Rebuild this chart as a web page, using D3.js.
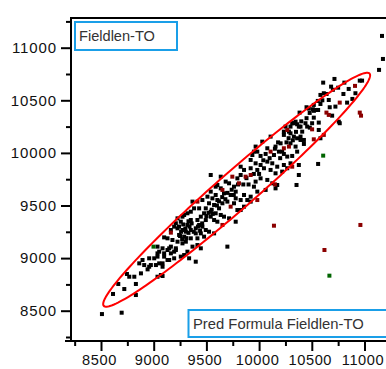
<!DOCTYPE html>
<html><head><meta charset="utf-8">
<script src="https://cdn.jsdelivr.net/npm/d3@7"></script>
<style>body{margin:0;background:#fff}svg{display:block}</style>
</head><body>
<svg id="c" width="386" height="369"></svg>
<script>
const xTicks = [8500, 9000, 9500, 10000, 10500, 11000];
const yTicks = [8500, 9000, 9500, 10000, 10500, 11000];
const minorTicks = [8250, 8750, 9250, 9750, 10250, 10750, 11250];
const yTitle = "Fieldlen-TO";
const xTitle = "Pred Formula Fieldlen-TO";

const blackPts = [
[8509,8468],[8696,8481],[8614,8659],[8664,8754],[8721,8706],[8746,8849],[8831,8754],[8831,8649],
[8816,8823],[8768,8823],[8879,8855],[8863,8950],[8910,8934],[8942,8893],[8894,8982],[8957,8918],
[8957,8998],[9036,8823],[9084,8830],[9021,8934],[9084,8950],[8973,8934],[9036,9014],[9005,8998],
[9052,9061],[9099,9045],[9131,8982],[9163,9045],[9194,9061],[9257,9014],[9147,9093],[9194,8998],
[9210,9093],[9036,9045],[9099,9014],[9147,8982],[9289,9029],[9320,9061],[9368,9109],[9415,9124],
[9447,9093],[9336,8998],[9399,8966],[9052,8950],[9084,8918],[9068,8839],[9036,9109],[9084,9093],
[9131,9077],[9163,9109],[9210,9077],[9099,9197],[9131,9188],[9178,9172],[9226,9156],[9273,9140],
[9305,9156],[9241,9220],[9289,9204],[9352,9188],[9415,9188],[9478,9204],[9210,9331],[9226,9283],
[9273,9267],[9305,9251],[9352,9267],[9399,9283],[9431,9315],[9462,9299],[9494,9267],[9525,9251],
[9573,9235],[9447,9235],[9399,9235],[9257,9346],[9289,9410],[9352,9362],[9320,9315],[9383,9473],
[9478,9426],[9447,9394],[9415,9362],[9494,9362],[9541,9394],[9573,9362],[9604,9346],[9494,9473],
[9541,9441],[9588,9426],[9636,9410],[9667,9394],[9715,9378],[9525,9521],[9573,9505],[9620,9473],
[9652,9521],[9699,9537],[9762,9521],[9825,9457],[9604,9552],[9557,9568],[9588,9600],[9541,9632],
[9604,9695],[9636,9663],[9667,9616],[9730,9600],[9778,9568],[9825,9552],[9857,9489],[9920,9537],
[9715,9711],[9762,9679],[9778,9632],[9794,9758],[9857,9600],[9888,9552],[9920,9584],[9951,9679],
[9983,9632],[10062,9648],[10156,9663],[9967,9727],[10014,9758],[10078,9743],[10125,9711],[10172,9695],
[9825,9790],[9825,9869],[9857,9838],[9920,9854],[9983,9838],[10046,9854],[10109,9838],[10156,9806],
[10219,9822],[10267,9854],[9920,9933],[9967,9901],[10014,9885],[10078,9917],[10125,9901],[10172,9869],
[10235,9885],[10298,9901],[10377,9885],[9936,9980],[9983,10012],[10014,9971],[10062,9990],[10141,9980],
[10188,10012],[10235,9990],[10267,9965],[10314,9971],[10361,10012],[9541,9790],[9699,9109],[9778,9346],
[9794,9457],[10355,9695],[10377,9790],[10560,9895],[10030,10107],[10078,10044],[10109,10155],[10156,10060],
[10204,10091],[10235,10171],[10251,10250],[10283,10202],[10314,10282],[10346,10297],[10377,10250],[10409,10202],
[10393,10155],[10425,10123],[10298,10091],[10346,10060],[10219,10012],[9967,10060],[9951,10012],
[11166,11112],[11175,10893],[11138,10789],[10977,10687],[10955,10687],[10715,10703],[10608,10668],[10809,10668],
[10850,10608],[10683,10630],[10914,10567],[10885,10513],[10582,10551],[10614,10567],[10661,10503],[10835,10478],
[10724,10440],[10670,10434],[10557,10494],[10582,10465],[10519,10456],[10450,10434],[10472,10421],[10384,10383],
[10510,10415],[10541,10408],[10560,10408],[10693,10354],[10756,10297],[10765,10282],[10519,10335],[10566,10288],
[10503,10282],[10440,10282],[10456,10250],[10481,10240],[10393,10250],[10330,10282],[10361,10272],[10298,10250],
[10566,10218],[10235,10202],[10298,10186],[10330,10155],[10361,10139],[10393,10123],[10425,10085],[10582,10139],
[9636,9774],[9683,9727],[9588,9679],[9510,9584],[9462,9552],[9431,9473],[9352,9441],[9320,9426],
[9273,9394],[9226,9378],[9194,9299],[9163,9267],[9368,9537],
[9240,9300],[9260,9250],[9280,9320],[9300,9280],[9330,9240],[9340,9300],[9360,9330],[9380,9250],
[9250,9210],[9270,9180],[9310,9190],[9330,9350],[9420,9300],[9440,9260],[9460,9330],[9500,9400],
[9520,9430],[9550,9460],[9560,9420],[9600,9500],[9620,9540],[9650,9580],[9680,9560],[9700,9620],
[9740,9650],[9760,9600],[9800,9700],[9850,9700],[9880,9760],[9900,9700],[9950,9800],[10000,9800],
[10040,9930],[10100,9950],[10150,10040],[10180,10100],[10200,9950],[10260,10100],[10280,10140],[10320,10120],
[10350,10200],[10400,10300],[10450,10330],[10480,10380],[10520,10400],[10600,10500],[10640,10560],[10700,10600],
[10750,10620],[10800,10560]
];
const redPts = [
[10109,10012],[10314,9869],[9872,9774],[9920,9790],[9746,9774],[9809,9711],[9652,9648],[9983,9552],
[9730,9489],[9415,9537],[9652,9315],[9163,9242],[10141,9308],[10961,9315],[10620,9077],[10910,10637],
[10765,10478],[10639,10383],[10661,10361],[10955,10383],[10967,10354],[10267,10218],[10503,10224],[10519,10129],
[10614,10171],[10283,10060],[10235,10044],[10150,9701]
];
const greenPts = [[8998,9109],[10608,9974],[10667,8833]];

// density ellipse parameters (data units)
const ellCenter = [9787, 9650];
const ellSemiMajor = 1676;
const ellSemiMinor = 176;
const ellAngleDeg = 41.2;

const svg = d3.select("#c");
const x = d3.scaleLinear().domain([8500, 11000]).range([101, 364.5]);
const y = d3.scaleLinear().domain([8500, 11000]).range([310.7, 47.7]);
const L = 71, T = 18, R = 394, B = 341;

svg.append("defs").append("clipPath").attr("id","clip")
  .append("rect").attr("x",L+1).attr("y",T+1).attr("width",R-L).attr("height",B-T-2);

const g = svg.append("g").attr("clip-path","url(#clip)");

const th = ellAngleDeg*Math.PI/180;
const ell = d3.range(0, 181).map(i=>{
  const t = i/180*2*Math.PI;
  const a = ellSemiMajor*Math.cos(t), b = ellSemiMinor*Math.sin(t);
  return [ellCenter[0] + a*Math.cos(th) - b*Math.sin(th), ellCenter[1] + a*Math.sin(th) + b*Math.cos(th)];
});

const sq = 4;
function drawPts(pts, color){
  g.selectAll(null).data(pts).enter().append("rect")
    .attr("x", d=>x(d[0])-sq/2).attr("y", d=>y(d[1])-sq/2)
    .attr("width", sq).attr("height", sq).attr("fill", color);
}
drawPts(blackPts, "#000");
drawPts(redPts, "#8b0000");
drawPts(greenPts, "#006400");

g.append("path").datum(ell)
  .attr("d", d3.line().x(d=>x(d[0])).y(d=>y(d[1])).curve(d3.curveLinearClosed))
  .attr("fill","none").attr("stroke","#f00").attr("stroke-width",2);

svg.append("line").attr("x1",L).attr("x2",386).attr("y1",T).attr("y2",T).attr("stroke","#000").attr("stroke-width",2);
svg.append("line").attr("x1",L).attr("x2",L).attr("y1",T-1).attr("y2",B).attr("stroke","#000").attr("stroke-width",2);
svg.append("line").attr("x1",L-6).attr("x2",386).attr("y1",B).attr("y2",B).attr("stroke","#000").attr("stroke-width",2);

const font = "'Liberation Sans', Arial, Helvetica, sans-serif";

const xAxisMinor = d3.axisBottom(x).tickValues(minorTicks).tickSize(5).tickFormat("");
const xAxisMajor = d3.axisBottom(x).tickValues(xTicks).tickSize(10).tickPadding(4).tickFormat(d3.format("d"));
[xAxisMinor, xAxisMajor].forEach(ax=>{
  const a = svg.append("g").attr("transform",`translate(0,${B})`).call(ax);
  a.select(".domain").remove();
  a.selectAll("line").attr("stroke","#000").attr("stroke-width",2);
  a.selectAll("text").attr("font-family",font).attr("font-size",14.6).attr("fill","#111")
    .attr("letter-spacing","0.6px").attr("dx","-2");
});
const yAxisMinor = d3.axisLeft(y).tickValues(minorTicks).tickSize(5).tickFormat("");
const yAxisMajor = d3.axisLeft(y).tickValues(yTicks).tickSize(10).tickPadding(4).tickFormat(d3.format("d"));
[yAxisMinor, yAxisMajor].forEach(ax=>{
  const a = svg.append("g").attr("transform",`translate(${L},0)`).call(ax);
  a.select(".domain").remove();
  a.selectAll("line").attr("stroke","#000").attr("stroke-width",2);
  a.selectAll("text").attr("font-family",font).attr("font-size",15).attr("fill","#111")
    .attr("letter-spacing","0.9px");
});

const blue = "#1a9fe8";
svg.append("rect").attr("x",75).attr("y",22).attr("width",102).attr("height",28)
  .attr("fill","#fff").attr("stroke",blue).attr("stroke-width",2);
svg.append("text").attr("x",79).attr("y",41).text(yTitle)
  .attr("font-family",font).attr("font-size",14.6).attr("fill","#333");
svg.append("rect").attr("x",188.5).attr("y",310).attr("width",210).attr("height",27)
  .attr("fill","#fff").attr("stroke",blue).attr("stroke-width",2);
svg.append("text").attr("x",193).attr("y",329).text(xTitle)
  .attr("font-family",font).attr("font-size",14.8).attr("fill","#333");
</script>
</body></html>
